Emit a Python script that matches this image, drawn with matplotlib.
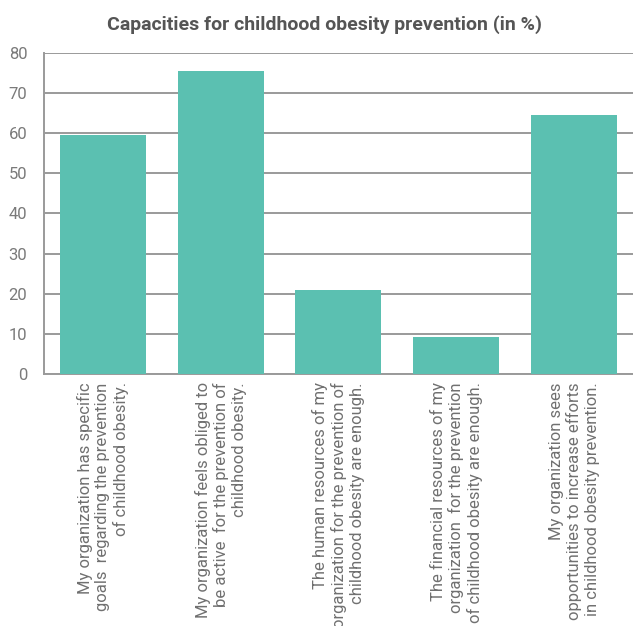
import matplotlib.pyplot as plt
import numpy as np

# Data
categories = [
    "My organization has specific\ngoals  regarding the prevention\nof childhood obesity.",
    "My organization feels obliged to\nbe active  for the prevention of\nchildhood obesity.",
    "The human resources of my\norganization for the prevention of\nchildhood obesity are enough.",
    "The financial resources of my\norganization  for the prevention\nof childhood obesity are enough.",
    "My organization sees\nopportunities to increase efforts\nin childhood obesity prevention.",
]
values = [59.6, 75.5, 20.9, 9.2, 64.5]
yticks = [0, 10, 20, 30, 40, 50, 60, 70, 80]

plt.rcParams['font.family'] = ['Roboto', 'DejaVu Sans']

fig = plt.figure(figsize=(6.33, 6.26), dpi=100)
ax = fig.add_axes([0.0695, 0.4026, 0.9305, 0.5127])

x = np.arange(len(categories))
ax.bar(x, values, width=0.73, color='#5bc0b1', zorder=3)

ax.set_xlim(-0.5, 4.5)
ax.set_ylim(0, 80)
ax.set_yticks(yticks)
ax.yaxis.grid(True, color='#9a9a9a', linewidth=1.4, zorder=0)
ax.tick_params(axis='y', length=0, pad=12, labelsize=12, labelcolor='#7a7a7a')
ax.tick_params(axis='x', length=0, pad=6)

ax.set_xticks(x)
ax.set_xticklabels(categories, rotation=90, ha='center', va='top',
                   multialignment='right', fontsize=12, color='#707070')

for side in ['top', 'right']:
    ax.spines[side].set_visible(False)
for side in ['left', 'bottom']:
    ax.spines[side].set_color('#9a9a9a')
    ax.spines[side].set_linewidth(1.4)

fig.text(0.513, 0.96, "Capacities for childhood obesity prevention (in %)",
         ha='center', va='center', fontsize=14, fontweight='bold', color='#555555')

fig.savefig('out.png', dpi=100)
